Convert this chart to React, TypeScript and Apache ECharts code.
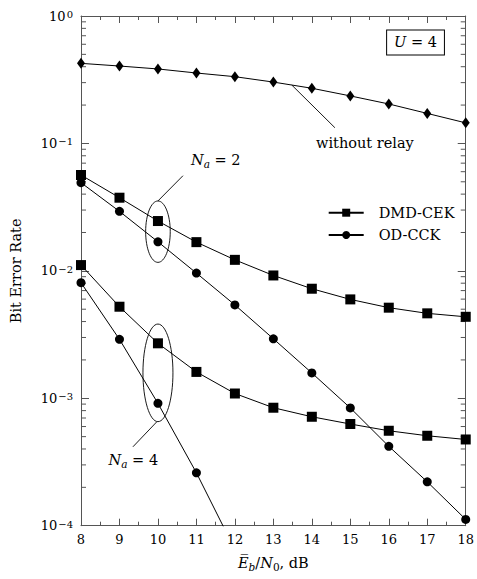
import React, { useEffect, useRef } from 'react';
import * as echarts from 'echarts';

const snrDb = [8, 9, 10, 11, 12, 13, 14, 15, 16, 17, 18];
const withoutRelay = [0.425, 0.405, 0.384, 0.357, 0.334, 0.303, 0.271, 0.236, 0.204, 0.172, 0.145];
const dmdCekNa2 = [0.0565, 0.0375, 0.0246, 0.0168, 0.0122, 0.0092, 0.00724, 0.00597, 0.00514, 0.00464, 0.00436];
const odCckNa2 = [0.0492, 0.0293, 0.0169, 0.0096, 0.0054, 0.00293, 0.00158, 0.00084, 0.00042, 0.000221, 0.000112];
const dmdCekNa4 = [0.0111, 0.00523, 0.0027, 0.00161, 0.00109, 0.000843, 0.000716, 0.000628, 0.000556, 0.000508, 0.000475];
const odCckNa4 = [0.00807, 0.0029, 0.000912, 0.00026, 0.000065];

const minorMantissas = [2, 3, 4, 5, 6, 7, 8, 9];
const minorDecades = [-4, -3, -2, -1];

const FONT = 'DejaVu Serif';
const FRAME = '#555';
const TXT = 14.5;

const pairs = (ys: number[]) => ys.map((y, i) => [snrDb[i], y]);

export default function App() {
  const ref = useRef<HTMLDivElement>(null);
  useEffect(() => {
    if (!ref.current) return;
    const chart = echarts.init(ref.current, undefined, { renderer: 'svg' });
    const minorVals: number[][] = [];
    minorDecades.forEach((d) => minorMantissas.forEach((m) => minorVals.push([8, m * Math.pow(10, d)])));

    const lineSeries = (name: string, data: number[], symbol: string, size: any) => ({
      type: 'line',
      name,
      data: pairs(data),
      symbol,
      symbolSize: size,
      showSymbol: true,
      clip: true,
      lineStyle: { color: '#000', width: 1 },
      itemStyle: { color: '#000' },
      z: 3,
    });

    const option: any = {
      animation: false,
      backgroundColor: '#fff',
      textStyle: { fontFamily: FONT },
      grid: { left: 80.3, right: 8.3, top: 16, bottom: 53.3, containLabel: false },
      legend: {
        data: ['DMD-CEK', 'OD-CCK'],
        orient: 'vertical',
        left: 322.7,
        top: 200.2,
        itemWidth: 35,
        itemHeight: 10,
        itemGap: 7.3,
        textStyle: { fontFamily: FONT, fontSize: TXT, color: '#000', lineHeight: 15, padding: [0, 0, 0, 10] },
        selectedMode: false,
      },
      xAxis: [
        {
          type: 'value',
          min: 8,
          max: 18,
          interval: 1,
          position: 'bottom',
          name: '{e|E\u0305}{sb|b}{n|/}{e|N}{sub|0}{n|, dB}',
          nameLocation: 'middle',
          nameGap: 30,
          nameTextStyle: {
            fontFamily: FONT,
            color: '#000',
            rich: {
              e: { fontFamily: FONT, fontStyle: 'italic', fontSize: TXT, color: '#000', verticalAlign: 'top', lineHeight: 17 },
              n: { fontFamily: FONT, fontSize: TXT, color: '#000', verticalAlign: 'top', lineHeight: 17 },
              sb: { fontFamily: FONT, fontStyle: 'italic', fontSize: 10.5, color: '#000', verticalAlign: 'bottom', lineHeight: 10, padding: [7, 0, 0, 0] },
              sub: { fontFamily: FONT, fontSize: 10.5, color: '#000', verticalAlign: 'bottom', lineHeight: 10, padding: [7, 0, 0, 0] },
            },
          },
          axisLine: { show: true, lineStyle: { color: FRAME, width: 1 } },
          axisTick: { show: true, inside: true, length: 7, lineStyle: { color: FRAME } },
          minorTick: { show: true, splitNumber: 2, length: 4, lineStyle: { color: FRAME } },
          axisLabel: { fontFamily: FONT, fontSize: 13, color: '#000', margin: 7 },
          splitLine: { show: false },
        },
        {
          type: 'value',
          min: 8,
          max: 18,
          interval: 1,
          position: 'top',
          axisLine: { show: true, lineStyle: { color: FRAME, width: 1 } },
          axisTick: { show: true, inside: true, length: 7, lineStyle: { color: FRAME } },
          minorTick: { show: true, splitNumber: 2, length: 4, lineStyle: { color: FRAME } },
          axisLabel: { show: false },
          splitLine: { show: false },
        },
      ],
      yAxis: [
        {
          type: 'log',
          logBase: 10,
          min: 1e-4,
          max: 1,
          position: 'left',
          name: 'Bit Error Rate',
          nameLocation: 'middle',
          nameGap: 58,
          nameTextStyle: { fontFamily: FONT, fontSize: TXT, color: '#000' },
          axisLine: { show: true, lineStyle: { color: FRAME, width: 1 } },
          axisTick: { show: true, inside: true, length: 8, lineStyle: { color: FRAME } },
          minorTick: { show: false },
          splitLine: { show: false },
          axisLabel: {
            margin: 8,
            formatter: (v: number) => {
              const e = Math.round(Math.log10(v));
              return `{b|10}{s|${e < 0 ? '\u2212' + -e : e}}`;
            },
            rich: {
              b: { fontFamily: FONT, fontSize: 13, color: '#000', lineHeight: 13, verticalAlign: 'bottom', padding: [3, 0, 0, 0] },
              s: { fontFamily: FONT, fontSize: 10, color: '#000', lineHeight: 10, verticalAlign: 'top', padding: [0, 0, 6, 1] },
            },
          },
        },
        {
          type: 'log',
          logBase: 10,
          min: 1e-4,
          max: 1,
          position: 'right',
          axisLine: { show: true, lineStyle: { color: FRAME, width: 1 } },
          axisTick: { show: true, inside: true, length: 8, lineStyle: { color: FRAME } },
          axisLabel: { show: false },
          splitLine: { show: false },
        },
      ],
      series: [
        {
          type: 'custom',
          name: 'minorTicks',
          silent: true,
          clip: false,
          data: minorVals,
          encode: { x: 0, y: 1 },
          renderItem: (params: any, api: any) => {
            const v = api.value(1);
            const pL = api.coord([8, v]);
            const pR = api.coord([18, v]);
            const st = { stroke: FRAME, lineWidth: 1 };
            return {
              type: 'group',
              children: [
                { type: 'line', shape: { x1: pL[0], y1: pL[1], x2: pL[0] + 5, y2: pL[1] }, style: st },
                { type: 'line', shape: { x1: pR[0], y1: pR[1], x2: pR[0] - 5, y2: pR[1] }, style: st },
              ],
            };
          },
          z: 1,
        },
        lineSeries('without relay', withoutRelay, 'diamond', [8, 11]),
        lineSeries('DMD-CEK', dmdCekNa2, 'rect', 10),
        lineSeries('OD-CCK', odCckNa2, 'circle', 9),
        lineSeries('DMD-CEK', dmdCekNa4, 'rect', 10),
        lineSeries('OD-CCK', odCckNa4, 'circle', 9),
      ],
    };
    chart.setOption(option);

    const px = (x: number, y: number) => chart.convertToPixel({ xAxisIndex: 0, yAxisIndex: 0 }, [x, y]) as number[];
    const thin = { stroke: '#000', lineWidth: 0.9, fill: 'none' };
    const e2 = px(10, 0.0203);
    const e4 = px(10, 0.001583);
    const l2a = px(10.65, 0.0558);
    const l4a = px(9.35, 0.000416);
    const w1 = px(13.48, 0.287);
    const w2 = px(14.6, 0.1328);
    const wt = px(15.38, 0.1007);
    const t2 = px(10.86, 0.0728);
    const t4 = px(9.36, 0.000321);
    const ub = px(16.695, 0.619);
    const naRich = {
      i: { fontFamily: FONT, fontStyle: 'italic', fontSize: TXT, fill: '#000', lineHeight: 17, verticalAlign: 'top' },
      n: { fontFamily: FONT, fontSize: TXT, fill: '#000', lineHeight: 17, verticalAlign: 'top' },
      sub: { fontFamily: FONT, fontStyle: 'italic', fontSize: 10.5, fill: '#000', lineHeight: 10, verticalAlign: 'bottom', padding: [7, 0, 0, 0] },
    };
    chart.setOption({
      graphic: [
        { type: 'ellipse', shape: { cx: e2[0], cy: e2[1], rx: 12.3, ry: 30.7 }, style: thin, z: 10 },
        { type: 'ellipse', shape: { cx: e4[0], cy: e4[1], rx: 15, ry: 48.8 }, style: thin, z: 10 },
        { type: 'line', shape: { x1: l2a[0], y1: l2a[1], x2: e2[0], y2: e2[1] - 30.7 }, style: thin, z: 10 },
        { type: 'line', shape: { x1: l4a[0], y1: l4a[1], x2: e4[0] - 1, y2: e4[1] + 48.8 }, style: thin, z: 10 },
        { type: 'line', shape: { x1: w1[0], y1: w1[1], x2: w2[0], y2: w2[1] }, style: thin, z: 10 },
        {
          type: 'text', x: wt[0], y: wt[1], z: 10,
          style: { text: 'without relay', fontFamily: FONT, fontSize: TXT, fill: '#000', align: 'center', verticalAlign: 'middle' },
        },
        {
          type: 'text', x: t2[0], y: t2[1], z: 10,
          style: { text: '{i|N}{sub|a}{n| = 2}', rich: naRich, align: 'left', verticalAlign: 'middle' },
        },
        {
          type: 'text', x: t4[0], y: t4[1], z: 10,
          style: { text: '{i|N}{sub|a}{n| = 4}', rich: naRich, align: 'center', verticalAlign: 'middle' },
        },
        {
          type: 'text', x: ub[0], y: ub[1], z: 10,
          style: {
            text: '{i|U}{n| = 4}', rich: naRich, align: 'center', verticalAlign: 'middle',
            borderColor: '#000', borderWidth: 1, padding: [4, 7, 3, 7], backgroundColor: '#fff',
          },
        },
      ],
    });
    return () => chart.dispose();
  }, []);
  return <div ref={ref} style={{ width: 477, height: 579, position: 'absolute', left: 0, top: 0 }} />;
}
